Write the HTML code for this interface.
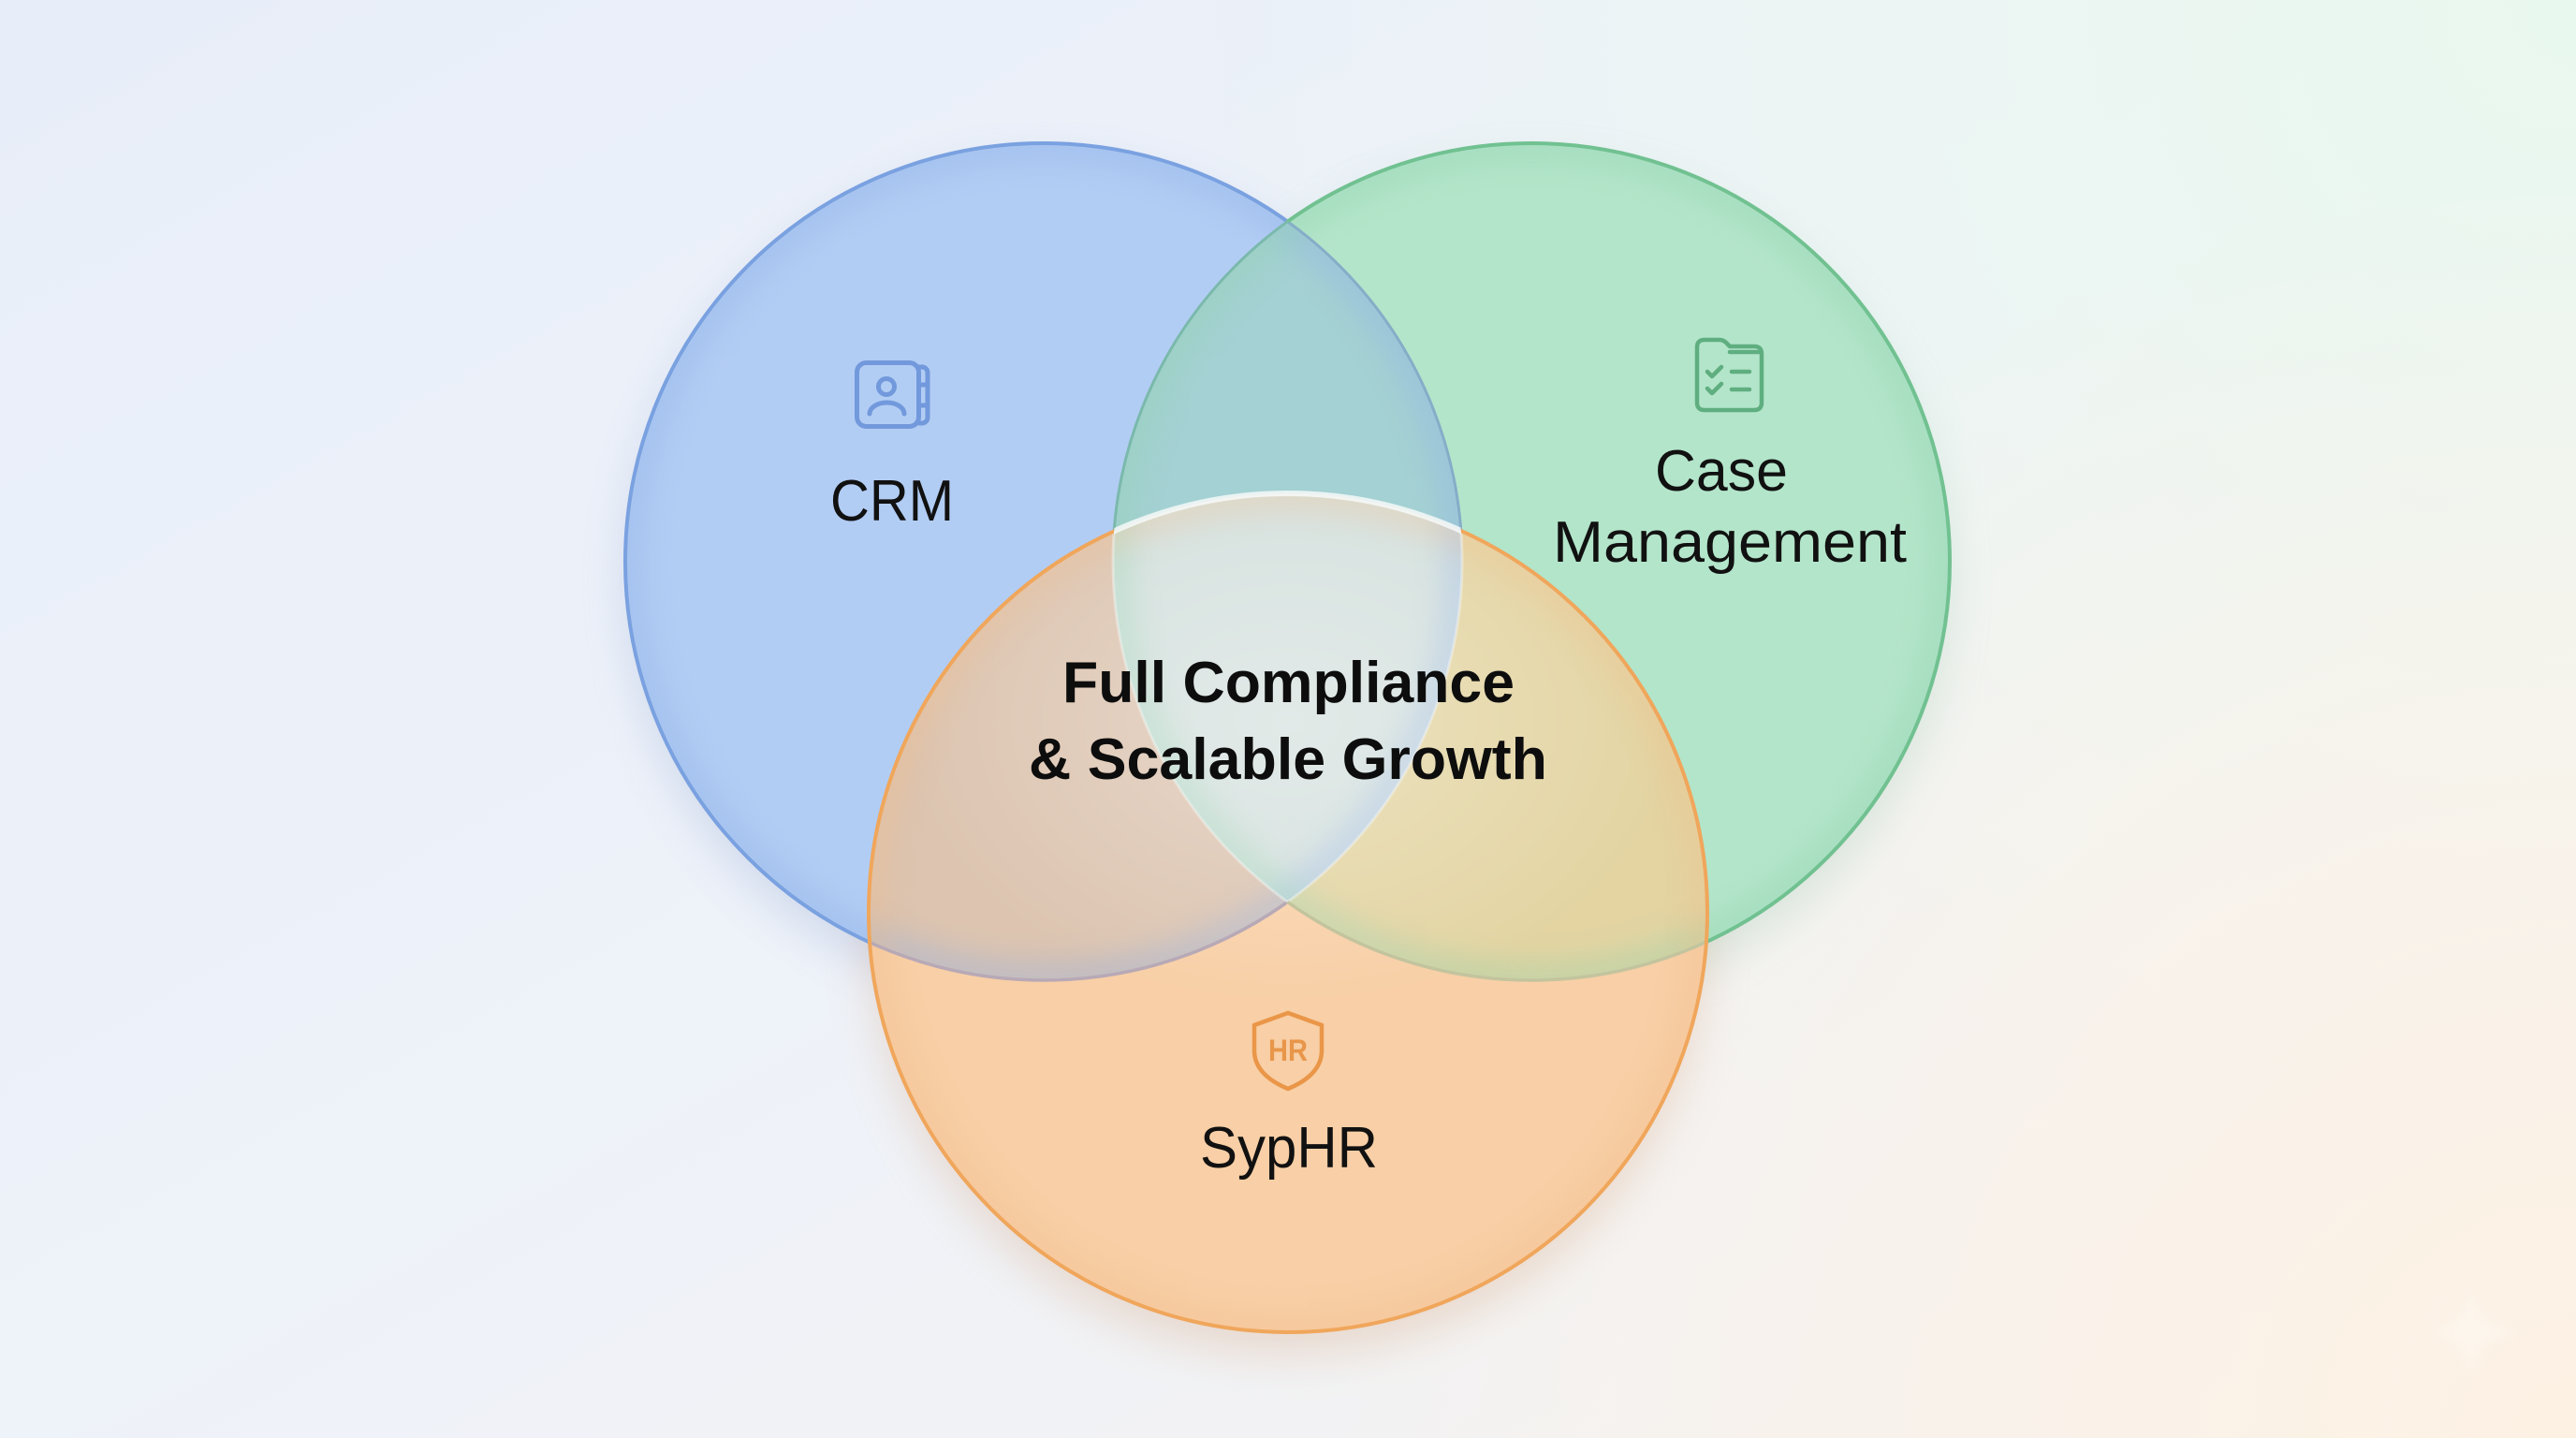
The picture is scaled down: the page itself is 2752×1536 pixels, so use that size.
<!DOCTYPE html>
<html><head><meta charset="utf-8"><style>
html,body{margin:0;padding:0;width:2752px;height:1536px;overflow:hidden;background:#edf1f9}
svg{display:block}
text{font-family:"Liberation Sans",Arial,sans-serif}
</style></head><body>
<svg width="2752" height="1536" viewBox="0 0 2752 1536" xmlns="http://www.w3.org/2000/svg">
<defs>
 <linearGradient id="bgL" x1="0" y1="0" x2="1" y2="1">
   <stop offset="0" stop-color="#e8eef9"/><stop offset="0.5" stop-color="#eef2f9"/><stop offset="1" stop-color="#f6f3ef"/>
 </linearGradient>
 <radialGradient id="bgG" cx="2752" cy="0" r="1500" gradientUnits="userSpaceOnUse">
   <stop offset="0" stop-color="#e9f8ee"/><stop offset="0.55" stop-color="#ecf7f1" stop-opacity="0.6"/><stop offset="1" stop-color="#ecf7f1" stop-opacity="0"/>
 </radialGradient>
 <radialGradient id="bgO" cx="2752" cy="1536" r="1350" gradientUnits="userSpaceOnUse">
   <stop offset="0" stop-color="#fdf1e3"/><stop offset="0.5" stop-color="#fbf2e8" stop-opacity="0.7"/><stop offset="1" stop-color="#fbf2e8" stop-opacity="0"/>
 </radialGradient>
 <radialGradient id="glow" cx="1376" cy="770" r="360" gradientUnits="userSpaceOnUse" gradientTransform="translate(1376 770) scale(1.15 0.85) translate(-1376 -770)">
   <stop offset="0" stop-color="#ffffff" stop-opacity="0.32"/><stop offset="0.6" stop-color="#ffffff" stop-opacity="0.14"/><stop offset="1" stop-color="#ffffff" stop-opacity="0"/>
 </radialGradient>
 <filter id="sh" x="-30%" y="-30%" width="160%" height="160%"><feGaussianBlur stdDeviation="24"/></filter>
 <filter id="blurIn" x="-10%" y="-10%" width="120%" height="120%"><feGaussianBlur stdDeviation="14"/></filter>
 <filter id="soft" x="-50%" y="-50%" width="200%" height="200%"><feGaussianBlur stdDeviation="5"/></filter>
 <clipPath id="cB"><circle cx="1115" cy="600" r="447"/></clipPath>
 <clipPath id="cG"><circle cx="1636" cy="600" r="447"/></clipPath>
 <clipPath id="cO"><circle cx="1376" cy="975" r="448"/></clipPath>
 <mask id="mNotGO" maskUnits="userSpaceOnUse" x="0" y="0" width="2752" height="1536"><rect width="2752" height="1536" fill="#fff"/><circle cx="1636" cy="600" r="447" fill="#000"/><circle cx="1376" cy="975" r="448" fill="#000"/></mask>
 <mask id="mNotBO" maskUnits="userSpaceOnUse" x="0" y="0" width="2752" height="1536"><rect width="2752" height="1536" fill="#fff"/><circle cx="1115" cy="600" r="447" fill="#000"/><circle cx="1376" cy="975" r="448" fill="#000"/></mask>
 <mask id="mNotO" maskUnits="userSpaceOnUse" x="0" y="0" width="2752" height="1536"><rect width="2752" height="1536" fill="#fff"/><circle cx="1376" cy="975" r="448" fill="#000"/></mask>
 <mask id="mNotG" maskUnits="userSpaceOnUse" x="0" y="0" width="2752" height="1536"><rect width="2752" height="1536" fill="#fff"/><circle cx="1636" cy="600" r="447" fill="#000"/></mask>
 <mask id="mNotB" maskUnits="userSpaceOnUse" x="0" y="0" width="2752" height="1536"><rect width="2752" height="1536" fill="#fff"/><circle cx="1115" cy="600" r="447" fill="#000"/></mask>
 <mask id="mNotBG" maskUnits="userSpaceOnUse" x="0" y="0" width="2752" height="1536"><rect width="2752" height="1536" fill="#fff"/><circle cx="1636" cy="600" r="447" fill="#000" clip-path="url(#cB)"/></mask>
</defs>

<!-- background -->
<rect width="2752" height="1536" fill="url(#bgL)"/>
<rect width="2752" height="1536" fill="url(#bgG)"/>
<rect width="2752" height="1536" fill="url(#bgO)"/>

<!-- shadows -->
<circle cx="1115" cy="622" r="447" fill="#6a86c0" opacity="0.22" filter="url(#sh)"/>
<circle cx="1636" cy="622" r="447" fill="#6aa886" opacity="0.2" filter="url(#sh)"/>
<circle cx="1376" cy="1000" r="448" fill="#d09a70" opacity="0.28" filter="url(#sh)"/>

<!-- base fills -->
<circle cx="1115" cy="600" r="447" fill="#b2cdf4"/>
<circle cx="1636" cy="600" r="447" fill="#b3e5ca"/>
<circle cx="1376" cy="975" r="448" fill="#f8cfa6"/>
<!-- pairwise overlaps -->
<circle cx="1636" cy="600" r="447" fill="#a4d1d3" clip-path="url(#cB)"/>
<circle cx="1376" cy="975" r="448" fill="#dcc4b0" clip-path="url(#cB)"/>
<circle cx="1376" cy="975" r="448" fill="#e3d4a2" clip-path="url(#cG)"/>
<!-- triple -->
<g clip-path="url(#cB)"><circle cx="1376" cy="975" r="448" fill="#d4e0dd" clip-path="url(#cG)"/></g>

<!-- inner edge shading -->
<g clip-path="url(#cB)"><circle cx="1115" cy="600" r="447" fill="none" stroke="#8fb0e6" stroke-width="40" opacity="0.35" filter="url(#blurIn)"/></g>
<g clip-path="url(#cG)"><circle cx="1636" cy="600" r="447" fill="none" stroke="#93d2ae" stroke-width="40" opacity="0.35" filter="url(#blurIn)"/></g>
<g clip-path="url(#cO)"><circle cx="1376" cy="975" r="448" fill="none" stroke="#f0bb88" stroke-width="40" opacity="0.3" filter="url(#blurIn)"/></g>

<!-- centre glow -->
<g clip-path="url(#cO)"><rect x="900" y="400" width="960" height="760" fill="url(#glow)"/></g>

<!-- blue outline -->
<circle cx="1115" cy="600" r="447" fill="none" stroke="#7aa1e0" stroke-width="4" mask="url(#mNotGO)"/>
<g clip-path="url(#cG)"><circle cx="1115" cy="600" r="447" fill="none" stroke="#86adc8" stroke-width="3" mask="url(#mNotO)"/></g>
<g clip-path="url(#cO)"><circle cx="1115" cy="600" r="447" fill="none" stroke="#b8a9b6" stroke-width="3.5" mask="url(#mNotG)"/></g>
<g clip-path="url(#cO)"><g clip-path="url(#cG)"><circle cx="1115" cy="600" r="447" fill="none" stroke="#f3f6f5" stroke-width="3" opacity="0.45"/></g></g>

<!-- green outline -->
<circle cx="1636" cy="600" r="447" fill="none" stroke="#71c191" stroke-width="4" mask="url(#mNotBO)"/>
<g clip-path="url(#cB)"><circle cx="1636" cy="600" r="447" fill="none" stroke="#7ab9ac" stroke-width="3" mask="url(#mNotO)"/></g>
<g clip-path="url(#cO)"><circle cx="1636" cy="600" r="447" fill="none" stroke="#c3c49e" stroke-width="3.5" mask="url(#mNotB)"/></g>
<g clip-path="url(#cO)"><g clip-path="url(#cB)"><circle cx="1636" cy="600" r="447" fill="none" stroke="#f3f6f5" stroke-width="3" opacity="0.45"/></g></g>

<!-- orange outline -->
<circle cx="1376" cy="975" r="448" fill="none" stroke="#f0a65b" stroke-width="4" mask="url(#mNotBG)"/>
<g clip-path="url(#cB)"><g clip-path="url(#cG)"><circle cx="1376" cy="975" r="448" fill="none" stroke="#f6f9f8" stroke-width="6" opacity="0.85"/></g></g>

<!-- CRM icon -->
<g fill="none" stroke="#7299dc" stroke-width="5" stroke-linecap="round" stroke-linejoin="round">
  <rect x="915.5" y="387.5" width="66" height="68" rx="10"/>
  <path d="M982 392 h3 a6 6 0 0 1 6 6 v48 a6 6 0 0 1 -6 6 h-3"/>
  <path d="M983 411 h7 M983 433 h7"/>
  <circle cx="947" cy="413" r="8.5"/>
  <path d="M929 442 a18.5 12 0 0 1 37 0"/>
</g>

<!-- Case icon -->
<g fill="none" stroke="#5fae80" stroke-width="4.5" stroke-linecap="round" stroke-linejoin="round">
  <path d="M1821 363 H1837 Q1841 363 1844 366 L1848 370 H1874 Q1882 370 1882 378 V430 Q1882 438 1874 438 H1821 Q1813 438 1813 430 V371 Q1813 363 1821 363 Z"/>
  <path d="M1848 376 H1880"/>
  <path d="M1824 397 L1829 402 L1839 392"/>
  <path d="M1824 415 L1829 420 L1839 410"/>
  <path d="M1850 397 H1869 M1850 416 H1869"/>
</g>

<!-- HR shield -->
<path d="M1376 1082 L1412 1095 V1122 Q1412 1148 1376 1163 Q1340 1148 1340 1122 V1095 Z" fill="none" stroke="#ea9648" stroke-width="4.5" stroke-linejoin="round"/>
<text x="1376" y="1133" font-size="32" font-weight="bold" text-anchor="middle" textLength="42" lengthAdjust="spacingAndGlyphs" fill="#e8964a">HR</text>

<!-- labels -->
<text x="953" y="556" font-size="62" text-anchor="middle" textLength="132" lengthAdjust="spacingAndGlyphs" fill="#111">CRM</text>
<text x="1839" y="524" font-size="62" text-anchor="middle" textLength="142" lengthAdjust="spacingAndGlyphs" fill="#111">Case</text>
<text x="1848" y="600" font-size="62" text-anchor="middle" textLength="378" lengthAdjust="spacingAndGlyphs" fill="#111">Management</text>
<text x="1377" y="1247" font-size="62" text-anchor="middle" textLength="190" lengthAdjust="spacingAndGlyphs" fill="#111">SypHR</text>

<text x="1376.5" y="750" font-size="62" font-weight="bold" text-anchor="middle" textLength="483" lengthAdjust="spacingAndGlyphs" fill="#0d0d0d">Full Compliance</text>
<text x="1376" y="832" font-size="62" font-weight="bold" text-anchor="middle" textLength="554" lengthAdjust="spacingAndGlyphs" fill="#0d0d0d">&amp; Scalable Growth</text>

<!-- sparkle -->
<path d="M2640 1375 Q2646 1417 2688 1423 Q2646 1429 2640 1471 Q2634 1429 2592 1423 Q2634 1417 2640 1375 Z" fill="#fffbf5" opacity="0.45" filter="url(#soft)"/>
</svg>
</body></html>
